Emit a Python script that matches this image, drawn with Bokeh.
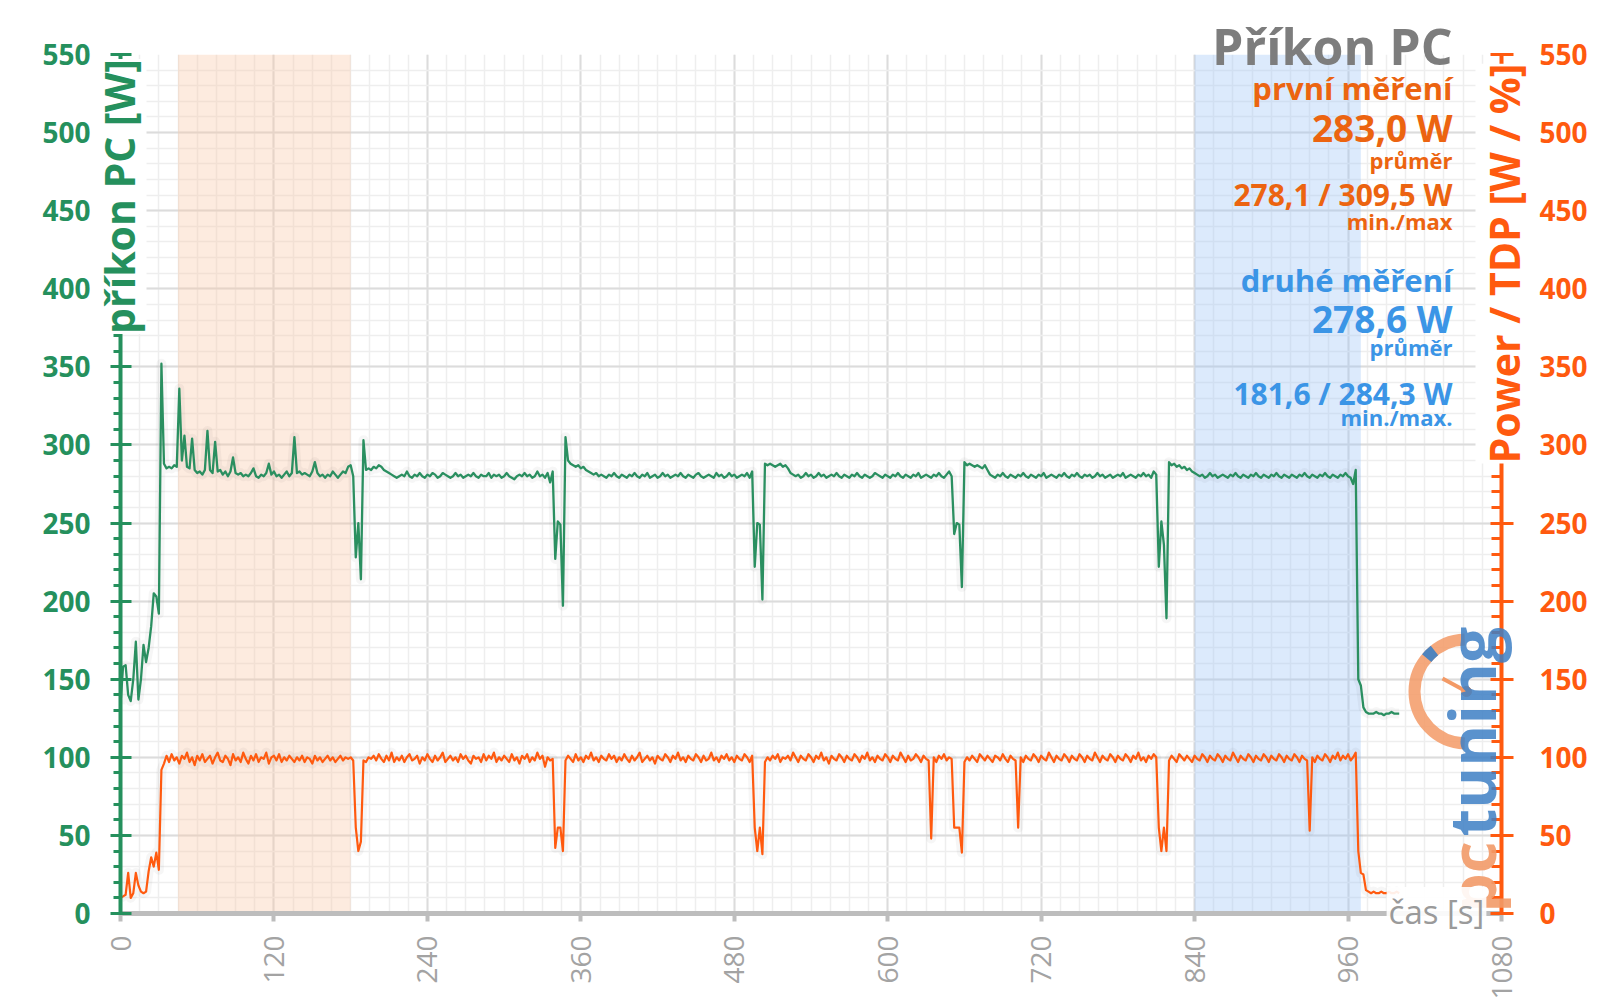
import math
from bokeh.plotting import figure
from bokeh.layouts import column, row
from bokeh.models import Range1d, LinearAxis, FixedTicker, BoxAnnotation, Label, ColumnDataSource
from bokeh.embed import file_html
from bokeh.resources import INLINE

# ---------------- data ----------------
time_s = list(range(0, 1001, 2))

pc_power_w = [
    134, 158, 159, 140, 136, 150, 174, 137, 150, 172,
    161, 170, 184, 205, 203, 192, 352, 288, 285, 286,
    285, 287, 286, 336, 290, 306, 286, 285, 304, 284,
    282, 283, 281, 284, 309, 284, 282, 302, 283, 284,
    281, 283, 280, 283, 292, 282, 281, 282, 280, 281,
    280, 282, 285, 280, 279, 281, 280, 282, 288, 281,
    283, 280, 281, 279, 281, 283, 280, 282, 305, 282,
    283, 281, 282, 281, 280, 283, 289, 282, 280, 281,
    279, 281, 280, 283, 281, 279, 281, 283, 282, 286,
    287, 280, 228, 250, 214, 303, 284, 285, 284, 286,
    285, 287, 286, 284, 283, 282, 281, 280, 279, 280,
    281, 280, 283, 280, 279, 281, 280, 282, 280, 279,
    281, 280, 282, 281, 279, 280, 282, 281, 280, 279,
    280, 282, 280, 281, 279, 280, 281, 280, 282, 280,
    279, 281, 280, 280, 282, 279, 281, 280, 281, 279,
    280, 282, 280, 279, 278, 280, 281, 280, 282, 280,
    281, 279, 280, 283, 280, 281, 279, 282, 276, 283,
    227, 251, 249, 197, 305, 290, 288, 287, 286, 287,
    285, 286, 284, 283, 282, 281, 282, 280, 281, 280,
    279, 281, 280, 282, 280, 279, 281, 280, 279, 281,
    280, 282, 280, 279, 281, 280, 282, 279, 280, 281,
    279, 280, 282, 280, 281, 279, 280, 281, 280, 282,
    280, 279, 281, 280, 279, 281, 282, 280, 279, 280,
    281, 280, 279, 282, 280, 281, 279, 280, 282, 280,
    281, 279, 280, 281, 280, 282, 279, 283, 222, 250,
    249, 201, 288, 287, 288, 287, 286, 287, 288, 286,
    287, 285, 282, 281, 280, 281, 279, 280, 282, 280,
    281, 279, 280, 282, 280, 281, 279, 280, 281, 280,
    282, 280, 279, 281, 280, 279, 281, 280, 282, 280,
    279, 281, 280, 279, 280, 282, 281, 280, 279, 281,
    280, 279, 281, 280, 282, 280, 279, 281, 280, 279,
    281, 280, 282, 279, 280, 281, 280, 279, 281, 280,
    282, 280, 279, 281, 283, 280, 243, 250, 249, 209,
    289, 287, 288, 287, 286, 287, 286, 285, 287, 284,
    281, 280, 279, 281, 280, 282, 280, 279, 281, 280,
    279, 281, 280, 282, 280, 279, 281, 280, 279, 281,
    280, 282, 279, 280, 281, 280, 279, 281, 280, 282,
    280, 279, 281, 280, 282, 280, 279, 281, 280, 281,
    279, 280, 282, 280, 281, 279, 280, 281, 279, 280,
    281, 280, 282, 279, 280, 281, 280, 279, 281, 280,
    282, 280, 281, 279, 283, 281, 222, 251, 236, 189,
    289, 287, 288, 286, 287, 285, 286, 284, 285, 283,
    282, 281, 280, 281, 279, 280, 282, 280, 281, 279,
    280, 281, 280, 279, 281, 280, 282, 280, 279, 281,
    280, 279, 281, 280, 282, 280, 279, 281, 280, 279,
    281, 280, 282, 280, 279, 281, 280, 279, 281, 280,
    279, 281, 280, 282, 280, 279, 281, 280, 279, 281,
    280, 282, 280, 279, 281, 280, 279, 281, 280, 282,
    280, 279, 275, 284, 150, 146, 132, 129, 128, 128,
    128, 129, 128, 128, 127, 128, 128, 129, 128, 128,
    128,
]

power_tdp_pct = [
    10, 11, 12, 26, 10, 13, 26, 18, 14, 13,
    14, 27, 36, 30, 39, 28, 92, 96, 101, 97,
    102, 98, 100, 96, 101, 99, 103, 97, 100, 95,
    101, 98, 102, 97, 99, 101, 96, 100, 103, 98,
    97, 101, 99, 95, 102, 98, 100, 97, 103, 99,
    96, 101, 98, 102, 97, 100, 99, 103, 96, 100,
    101, 98, 102, 97, 100, 98, 101, 99, 97, 100,
    98, 101, 97, 100, 99, 96, 101, 98, 100, 97,
    99, 101, 98, 100, 97, 99, 101, 98, 100, 99,
    100, 98, 55, 40, 46, 98, 97, 100, 99, 101,
    98, 102, 99, 97, 101, 98, 103, 97, 100, 98,
    101, 97, 100, 102, 98, 99, 101, 96, 100, 98,
    102, 99, 97, 101, 98, 100, 103, 97, 99, 101,
    98, 100, 97, 102, 99, 101, 98, 96, 101, 99,
    100, 97, 102, 98, 101, 99, 103, 97, 100, 98,
    101, 99, 97, 102, 98, 100, 96, 101, 99, 102,
    97, 100, 98, 103, 99, 101, 94, 100, 98, 99,
    42, 55, 55, 40, 98, 101, 99, 97, 102, 98,
    100, 97, 101, 99, 103, 98, 100, 97, 101, 99,
    98, 102, 99, 101, 97, 100, 98, 102, 99, 97,
    101, 98, 100, 103, 97, 99, 101, 98, 100, 96,
    101, 99, 98, 102, 100, 97, 101, 99, 103, 98,
    100, 97, 101, 99, 98, 102, 100, 97, 101, 98,
    99, 103, 98, 100, 97, 101, 99, 102, 98, 100,
    97, 101, 99, 98, 102, 100, 97, 101, 55, 40,
    55, 38, 97, 100, 98, 101, 99, 102, 97, 100,
    99, 101, 98, 103, 100, 97, 101, 99, 98, 102,
    100, 97, 101, 99, 103, 98, 100, 96, 101, 99,
    98, 102, 100, 97, 101, 99, 98, 102, 100, 97,
    101, 99, 103, 98, 100, 97, 101, 99, 98, 102,
    100, 97, 101, 99, 98, 103, 100, 97, 101, 98,
    99, 102, 100, 97, 101, 99, 98, 48, 100, 97,
    101, 99, 102, 98, 100, 99, 55, 55, 55, 39,
    97, 100, 98, 101, 99, 97, 102, 100, 98, 101,
    99, 97, 101, 100, 98, 102, 99, 97, 101, 99,
    98, 55, 100, 97, 101, 99, 98, 102, 100, 97,
    101, 99, 98, 103, 100, 97, 101, 99, 98, 102,
    100, 97, 101, 99, 98, 102, 100, 97, 101, 99,
    98, 103, 100, 97, 101, 99, 98, 102, 100, 97,
    101, 99, 98, 102, 100, 97, 101, 99, 103, 98,
    100, 97, 101, 99, 102, 100, 55, 40, 55, 40,
    98, 101, 99, 97, 102, 100, 98, 101, 99, 97,
    101, 99, 98, 102, 100, 97, 101, 99, 98, 102,
    100, 97, 101, 99, 98, 103, 100, 97, 101, 99,
    98, 102, 100, 97, 101, 99, 98, 102, 100, 97,
    101, 99, 98, 102, 100, 97, 101, 99, 98, 102,
    100, 97, 101, 99, 98, 53, 100, 97, 101, 99,
    98, 102, 100, 97, 101, 99, 103, 98, 101, 99,
    102, 98, 100, 103, 40, 26, 25, 15, 14, 13,
    14, 13, 13, 14, 13, 13, 14, 13, 13, 14,
    13,
]

x_ticks = [0, 120, 240, 360, 480, 600, 720, 840, 960, 1080]
x_minor_ticks = list(range(0, 1081, 15))
y_ticks = [0, 50, 100, 150, 200, 250, 300, 350, 400, 450, 500, 550]
y_minor_ticks = list(range(0, 551, 10))

first_run_s = (45, 180)
second_run_s = (840, 970)

title_text = "Příkon PC"
left_title = "příkon PC [W]"
right_title = "Power / TDP [W / %]"
x_title = "čas [s]"
run1_lines = ["první měření", "283,0 W", "průměr", "278,1 / 309,5 W", "min./max"]
run2_lines = ["druhé měření", "278,6 W", "průměr", "181,6 / 284,3 W", "min./max."]

# ---------------- layout ----------------
W, H = 1600, 1008
BL, BR, BT, BB = 120, 99, 54, 95
XMAX, YMAX = 1080, 550

FONT = "Open Sans"
GREEN = "#25905d"
ORANGE = "#ff5a0f"
ORANGE_T = "#ec6410"
BLUE_T = "#3b95e6"
GRAY_T = "#7d7d7d"

p = figure(width=W, height=H, output_backend="svg", toolbar_location=None,
           x_range=Range1d(0, XMAX), y_range=Range1d(0, YMAX),
           min_border_left=BL, min_border_right=BR, min_border_top=BT, min_border_bottom=BB)
p.outline_line_color = None
p.background_fill_color = "white"
p.border_fill_color = "white"

# grids
p.xgrid.ticker = FixedTicker(ticks=x_ticks, minor_ticks=x_minor_ticks)
p.ygrid.ticker = FixedTicker(ticks=y_ticks, minor_ticks=y_minor_ticks)
for g in (p.xgrid[0], p.ygrid[0]):
    g.grid_line_color = "#dcdcdc"
    g.grid_line_width = 2
    g.minor_grid_line_color = "#eeeeee"
    g.minor_grid_line_width = 1.5

# shaded regions
p.add_layout(BoxAnnotation(left=first_run_s[0], right=first_run_s[1], fill_color="#f9c7a2",
                           fill_alpha=0.35, line_color=None, level="underlay"))
p.add_layout(BoxAnnotation(left=second_run_s[0], right=second_run_s[1], fill_color="#9cc4f5",
                           fill_alpha=0.35, line_color=None, level="underlay"))

# bottom axis
xa = p.xaxis[0]
xa.ticker = FixedTicker(ticks=x_ticks, minor_ticks=[])
xa.axis_line_color = "#bdbdbd"
xa.axis_line_width = 5
xa.major_tick_line_color = "#bdbdbd"
xa.major_tick_line_width = 4
xa.major_tick_in = 0
xa.major_tick_out = 8
xa.minor_tick_line_color = None
xa.major_label_orientation = math.pi / 2
xa.major_label_standoff = 14
xa.major_label_text_font = FONT
xa.major_label_text_font_size = "28px"
xa.major_label_text_color = "#a3a3a3"

# left axis
ya = p.yaxis[0]
ya.ticker = FixedTicker(ticks=y_ticks, minor_ticks=y_minor_ticks)
ya.axis_line_color = GREEN
ya.axis_line_width = 4
ya.major_tick_line_color = GREEN
ya.major_tick_line_width = 3
ya.major_tick_in = 11
ya.major_tick_out = 10
ya.minor_tick_line_color = GREEN
ya.minor_tick_line_width = 3
ya.minor_tick_in = 0
ya.minor_tick_out = 7
ya.major_label_standoff = 20
ya.major_label_text_font = FONT
ya.major_label_text_font_style = "bold"
ya.major_label_text_font_size = "28px"
ya.major_label_text_color = GREEN

# right axis
p.extra_y_ranges = {"pct": Range1d(0, YMAX)}
ra = LinearAxis(y_range_name="pct", ticker=FixedTicker(ticks=y_ticks, minor_ticks=y_minor_ticks))
ra.axis_line_color = ORANGE
ra.axis_line_width = 4
ra.major_tick_line_color = ORANGE
ra.major_tick_line_width = 3
ra.major_tick_in = 11
ra.major_tick_out = 12
ra.minor_tick_line_color = ORANGE
ra.minor_tick_line_width = 3
ra.minor_tick_in = 10
ra.minor_tick_out = 0
ra.major_label_standoff = 26
ra.major_label_text_font = FONT
ra.major_label_text_font_style = "bold"
ra.major_label_text_font_size = "28px"
ra.major_label_text_color = ORANGE
p.add_layout(ra, "right")

# series
src = ColumnDataSource(data=dict(t=time_s, pc=pc_power_w, pct=power_tdp_pct))
p.line("t", "pc", source=src, line_color="black", line_alpha=0.035, line_width=10, line_join="round")
p.line("t", "pct", source=src, line_color="black", line_alpha=0.035, line_width=10, line_join="round",
       y_range_name="pct")
p.line("t", "pc", source=src, line_color="#2a8f60", line_width=2.3, line_join="round")
p.line("t", "pct", source=src, line_color=ORANGE, line_width=2.2, line_join="round", y_range_name="pct")

# ---------------- transparent overlay for texts that cross the frame edges ----------------
ov = figure(width=W, height=H, output_backend="svg", toolbar_location=None,
            x_range=Range1d(0, W), y_range=Range1d(H, 0),
            x_axis_type=None, y_axis_type=None,
            min_border=0, min_border_left=0, min_border_right=0, min_border_top=0, min_border_bottom=0)
ov.outline_line_color = None
ov.background_fill_alpha = 0
ov.border_fill_alpha = 0

def base_y(baseline, size_px):
    # Bokeh draws "alphabetic" labels about 0.4 em lower than the given anchor
    return baseline - 0.4 * size_px

# logo (pctuning)
ov.arc(x=[1466], y=[691], radius=52, radius_units="screen", start_angle=math.radians(92),
       end_angle=math.radians(268), line_color="#f39a66", line_width=12, line_alpha=0.85)
ov.arc(x=[1466], y=[691], radius=52, radius_units="screen", start_angle=math.radians(128),
       end_angle=math.radians(140), line_color="#3d7fc4", line_width=12, line_alpha=0.9)
ov.segment(x0=[1466], y0=[691], x1=[1442], y1=[678], line_color="#f39a66", line_width=4)
ov.scatter(x=[1466], y=[691], size=10, color="#f39a66")
ov.add_layout(Label(x=1471, y=912, text="pc", angle=math.pi / 2, text_align="left",
                    text_baseline="alphabetic", text_font=FONT, text_font_style="bold",
                    text_font_size="62px", text_color="#f29a68", text_alpha=0.9))
ov.add_layout(Label(x=1471, y=836, text="tuning", angle=math.pi / 2, text_align="left",
                    text_baseline="alphabetic", text_font=FONT, text_font_style="bold",
                    text_font_size="64px", text_color="#3d7fc4", text_alpha=0.85))

# axis titles over the axis lines
ov.add_layout(Label(x=118, y=196, text=left_title, angle=math.pi / 2, text_align="center",
                    text_baseline="middle", text_font=FONT, text_font_style="bold",
                    text_font_size="41px", text_color=GREEN, background_fill_color="white",
                    padding=0))
ov.add_layout(Label(x=1503, y=263, text=right_title, angle=math.pi / 2, text_align="center",
                    text_baseline="middle", text_font=FONT, text_font_style="bold",
                    text_font_size="41px", text_color=ORANGE, background_fill_color="white",
                    padding=0))
ov.add_layout(Label(x=1436, y=911, text=x_title, text_align="center", text_baseline="middle",
                    text_font=FONT, text_font_size="33px", text_color="#9a9a9a",
                    background_fill_color="white", background_fill_alpha=0.9, padding=2))

# title and statistics
ov.add_layout(Label(x=1452, y=base_y(65, 50), text=title_text, text_align="right",
                    text_baseline="alphabetic", text_font=FONT, text_font_style="bold",
                    text_font_size="50px", text_color=GRAY_T))

stat_size = [31, 37, 22, 30, 22]
run1_base = [100, 142, 168, 206, 229]
run2_base = [292, 333, 355, 405, 425]
for txt, b, s in zip(run1_lines, run1_base, stat_size):
    ov.add_layout(Label(x=1452, y=base_y(b, s), text=txt, text_align="right", text_baseline="alphabetic",
                        text_font=FONT, text_font_style="bold", text_font_size=f"{s}px",
                        text_color=ORANGE_T))
for txt, b, s in zip(run2_lines, run2_base, stat_size):
    ov.add_layout(Label(x=1452, y=base_y(b, s), text=txt, text_align="right", text_baseline="alphabetic",
                        text_font=FONT, text_font_style="bold", text_font_size=f"{s}px",
                        text_color=BLUE_T))

# separate containers so the two plot frames are not aligned with each other
layout = column(row(p), row(ov, margin=(-H, 0, 0, 0)))
open("out.html", "w").write(file_html(layout, INLINE))
